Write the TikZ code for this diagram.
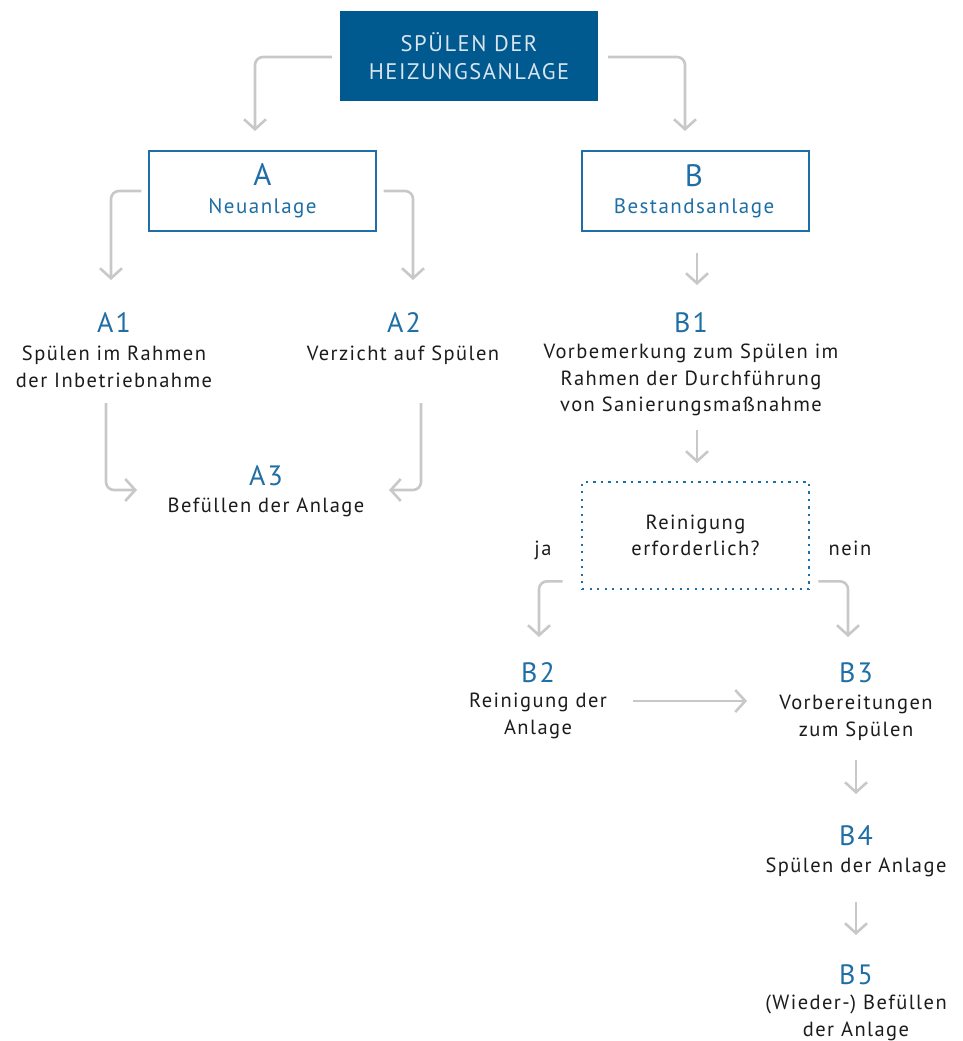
\documentclass[tikz,border=0pt]{standalone}
\usepackage{fontspec}
\setmainfont[LetterSpace=7]{PT Sans}
\usetikzlibrary{arrows.meta}
\definecolor{dblue}{HTML}{005A8F}
\definecolor{lblue}{HTML}{1F6EA5}
\definecolor{agray}{HTML}{C8C8C8}
\definecolor{tgray}{HTML}{1C1C1C}
\definecolor{ttext}{HTML}{D9E5EF}
\begin{document}
\begin{tikzpicture}[x=1pt,y=-1pt,
  arr/.style={draw=agray,line width=2.6pt,rounded corners=8pt,
    -{Straight Barb[length=10pt,width=22pt,line width=2.6pt]}},
  lab/.style={text=lblue,font=\fontsize{28}{30}\selectfont,inner sep=0pt,anchor=base},
  body/.style={text=tgray,font=\fontsize{20.5}{26.5}\selectfont,align=center,inner sep=0pt},
  bodyline/.style={text=tgray,font=\fontsize{20.5}{26.5}\selectfont,inner sep=0pt,anchor=base},
  boxlab/.style={text=lblue,inner sep=0pt,anchor=base},
  framebox/.style={draw=lblue,line width=1.3pt,minimum width=227pt,minimum height=80pt,inner sep=0pt},
]
\path[use as bounding box] (0,0) rectangle (963,1041);

% title
\node[fill=dblue,minimum width=258pt,minimum height=90pt,inner sep=0pt,
      text=ttext,font=\fontsize{22.5}{28}\selectfont,align=center] (title) at (469,56)
      {SPÜLEN DER\\HEIZUNGSANLAGE};

% boxes A and B
\node[framebox] (A) at (262.5,191) {};
\node[boxlab,font=\fontsize{31}{33}\selectfont] (Alab) at (262.5,185) {A};
\node[boxlab,font=\fontsize{21}{24}\selectfont] (Atxt) at (262.5,213) {Neuanlage};
\node[framebox] (B) at (695.5,191) {};
\node[boxlab,font=\fontsize{31}{33}\selectfont] (Blab) at (694,186) {B};
\node[boxlab,font=\fontsize{21}{24}\selectfont] (Btxt) at (694,213) {Bestandsanlage};

% A1, A2, A3
\node[lab] (A1) at (114,332) {A1};
\node[body] (A1t) at (114,367) {Spülen im Rahmen\\der Inbetriebnahme};
\node[lab] (A2) at (404,332) {A2};
\node[bodyline] (A2t) at (403,360) {Verzicht auf Spülen};
\node[lab] (A3) at (266,485) {A3};
\node[bodyline] (A3t) at (266,512) {Befüllen der Anlage};

% B1
\node[lab] (B1) at (691,332) {B1};
\node[body] (B1t) at (691,380) {Vorbemerkung zum Spülen im\\Rahmen der Durchführung\\von Sanierungsmaßnahme};

% decision
\node[draw=lblue,line width=2.6pt,dash pattern=on 2.4pt off 5.1pt,
      minimum width=227pt,minimum height=107pt,inner sep=0pt,
      text=tgray,font=\fontsize{20.5}{26.5}\selectfont,align=center] (D) at (695.5,535.5)
      {Reinigung\\erforderlich?};
\node[bodyline] (ja) at (543,555) {ja};
\node[bodyline] (nein) at (850,555) {nein};

% B2..B5
\node[lab] (B2) at (538,682) {B2};
\node[body] (B2t) at (538,716) {Reinigung der\\Anlage};
\node[lab] (B3) at (856,682) {B3};
\node[body] (B3t) at (856,718) {Vorbereitungen\\zum Spülen};
\node[lab] (B4) at (856,845) {B4};
\node[bodyline] (B4t) at (856,872) {Spülen der Anlage};
\node[lab] (B5) at (856,984) {B5};
\node[body] (B5t) at (856,1018) {(Wieder-) Befüllen\\der Anlage};

% arrow end coordinates
\coordinate (tA) at (255,131);
\coordinate (tB) at (685,131);
\coordinate (tA1) at (111,280);
\coordinate (tA2) at (413,280);
\coordinate (tB1) at (697,285);
\coordinate (sA1) at (106,403);
\coordinate (tA3l) at (137,490);
\coordinate (sA2) at (421,403);
\coordinate (tA3r) at (389,490);
\coordinate (sB1) at (697,430);
\coordinate (tD) at (697,463);
\coordinate (tB2) at (539,637);
\coordinate (tB3) at (848,637);
\coordinate (sB2) at (633,701);
\coordinate (tB3h) at (747,701);
\coordinate (sB3) at (856,760);
\coordinate (tB4) at (856,794);
\coordinate (sB4) at (856,902);
\coordinate (tB5) at (856,935);

% connectors
\draw[arr] ([xshift=-8pt,yshift=-1pt]title.west) -| (tA);
\draw[arr] ([xshift=10pt,yshift=-1pt]title.east) -| (tB);
\draw[arr] ([xshift=-7pt]A.west) -| (tA1);
\draw[arr] ([xshift=7pt]A.east) -| (tA2);
\draw[arr] ([yshift=-21pt]B.south -| tB1) -- (tB1);
\draw[arr] (sA1) |- (tA3l);
\draw[arr] (sA2) |- (tA3r);
\draw[arr] (sB1) -- (tD);
\draw[arr] ([xshift=-18pt,yshift=9pt]D.south west) -| (tB2);
\draw[arr] ([xshift=8pt,yshift=9pt]D.south east) -| (tB3);
\draw[arr] (sB2) -- (tB3h);
\draw[arr] (sB3) -- (tB4);
\draw[arr] (sB4) -- (tB5);
\end{tikzpicture}
\end{document}
